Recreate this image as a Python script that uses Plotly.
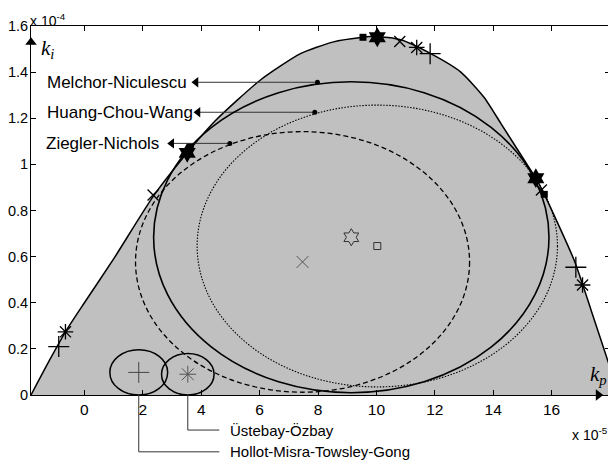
import plotly.graph_objects as go

# Stability-region boundary (kp in units of 1e-5, ki in units of 1e-4)
boundary_kp = [-1.83, -1.2, -0.65, 0.0, 1.0, 2.35, 3.52, 4.49, 6.03, 7.4, 8.5, 9.54, 10.0,
               10.83, 11.86, 12.89, 13.69, 14.26, 15.06, 15.46, 15.75, 16.77, 17.35, 18.03, 18.3]
boundary_ki = [0.0, 0.15, 0.274, 0.40, 0.59, 0.86, 1.05, 1.19, 1.366, 1.48, 1.53, 1.551, 1.555,
               1.54, 1.48, 1.40, 1.29, 1.178, 1.019, 0.94, 0.87, 0.585, 0.369, 0.108, 0.0]

# Ellipses (centre and semi-axes)
ell_names = ["Melchor-Niculescu", "Huang-Chou-Wang", "Ziegler-Nichols",
             "Hollot-Misra-Towsley-Gong", "Üstebay-Özbay"]
ell_cx = [9.14, 10.03, 7.47, 1.86, 3.54]
ell_cy = [0.684, 0.646, 0.577, 0.098, 0.09]
ell_rx = [6.77, 6.17, 5.72, 0.99, 0.90]
ell_ry = [0.674, 0.611, 0.565, 0.098, 0.09]

# Points on the boundary for each method
star_kp = [10.03, 15.46, 3.52]
star_ki = [1.551, 0.94, 1.05]
square_kp = [9.54, 15.75, 3.63]
square_ki = [1.551, 0.87, 1.077]
cross_kp = [10.8, 15.65, 2.35]
cross_ki = [1.533, 0.889, 0.867]
aster_kp = [11.38, 17.06, -0.65]
aster_ki = [1.507, 0.477, 0.274]
plus_kp = [11.84, 16.83, -0.88]
plus_ki = [1.48, 0.554, 0.21]

# Label pointers (dots on the ellipses -> arrowheads near the labels)
label_names = ["Melchor-Niculescu", "Huang-Chou-Wang", "Ziegler-Nichols"]
dot_kp = [7.98, 7.89, 4.98]
dot_ki = [1.356, 1.226, 1.091]
head_kp = [3.82, 3.89, 2.99]
text_kp = [-1.34, -1.34, -1.40]

# Bottom label pointers
bottom_idx = [4, 3]
bottom_paper_y = [-0.095, -0.154]
bottom_head_kp = 4.62

x_ticks = [0, 2, 4, 6, 8, 10, 12, 14, 16, 18]
y_ticks = [0, 0.2, 0.4, 0.6, 0.8, 1, 1.2, 1.4, 1.6]
y_max = 1.6

fig = go.Figure()

fig.add_trace(go.Scatter(x=boundary_kp, y=boundary_ki, mode="lines", fill="tozeroy",
                         fillcolor="#c0c0c0",
                         line=dict(color="black", width=1.5, shape="spline", smoothing=0.6),
                         hoverinfo="skip"))

ell_dash = ["solid", "1.5px,1.5px", "5px,3px", "solid", "solid"]
ell_width = [1.6, 1.1, 1.3, 1.5, 1.5]
for i in range(len(ell_cx)):
    fig.add_shape(type="circle", xref="x", yref="y",
                  x0=ell_cx[i] - ell_rx[i], x1=ell_cx[i] + ell_rx[i],
                  y0=ell_cy[i] - ell_ry[i], y1=ell_cy[i] + ell_ry[i],
                  line=dict(color="black", width=ell_width[i], dash=ell_dash[i]), layer="above")

center_sym = ["hexagram-open", "square-open", "x-thin-open", "cross-thin-open", "asterisk-open"]
center_size = [13, 7, 12, 15, 14]
center_col = ["#333333", "#333333", "#555555", "#444444", "#555555"]
for i in range(len(ell_cx)):
    fig.add_trace(go.Scatter(x=[ell_cx[i]], y=[ell_cy[i]], mode="markers",
                             marker=dict(symbol=center_sym[i], size=center_size[i], color=center_col[i],
                                         line=dict(width=1, color=center_col[i]))))


def marks(xs, ys, sym, size, lw=1.3, clip=True):
    fig.add_trace(go.Scatter(x=xs, y=ys, mode="markers", cliponaxis=clip,
                             marker=dict(symbol=sym, size=size, color="black",
                                         line=dict(width=lw, color="black"))))


marks(square_kp, square_ki, "square", 7, 0)
marks(star_kp, star_ki, "hexagram", 15, 0)
marks(cross_kp, cross_ki, "x-thin-open", 11)
marks(aster_kp, aster_ki, "asterisk-open", 13)
marks(plus_kp, plus_ki, "cross-thin-open", 15)

font = "Liberation Sans, Arial, sans-serif"

# Left label arrows
for i in range(len(label_names)):
    fig.add_trace(go.Scatter(x=[dot_kp[i], head_kp[i]], y=[dot_ki[i], dot_ki[i]], mode="lines",
                             line=dict(color="#333333", width=1)))
    fig.add_annotation(x=text_kp[i], y=dot_ki[i], xref="x", yref="y", text=label_names[i],
                       showarrow=False, xanchor="left", yanchor="middle",
                       font=dict(family=font, size=17, color="black"))
marks(head_kp, dot_ki, "triangle-left", 9, 0, clip=False)
marks(dot_kp, dot_ki, "circle", 5, 0)

# Bottom label arrows
for j, i in enumerate(bottom_idx):
    fig.add_shape(type="line", xref="x", yref="paper", x0=ell_cx[i], x1=ell_cx[i],
                  y0=0, y1=bottom_paper_y[j], line=dict(color="#333333", width=1))
    fig.add_shape(type="line", xref="x", yref="paper", x0=ell_cx[i], x1=bottom_head_kp,
                  y0=bottom_paper_y[j], y1=bottom_paper_y[j], line=dict(color="#333333", width=1))
    fig.add_annotation(x=bottom_head_kp + 0.3, y=bottom_paper_y[j], xref="x", yref="paper",
                       text=ell_names[i], showarrow=False, xanchor="left", yanchor="middle",
                       font=dict(family=font, size=15, color="black"))
marks([bottom_head_kp] * 2, [p * y_max for p in bottom_paper_y], "triangle-right", 9, 0, clip=False)

# Axis arrows
marks([-1.83], [1.53], "triangle-up", 10, 0, clip=False)
marks([17.6], [0.0], "triangle-right", 10, 0, clip=False)

serif = "Liberation Serif, Times New Roman, serif"
fig.add_annotation(x=-1.55, y=1.50, xref="x", yref="y", text="<i>k</i><sub><i>i</i></sub>",
                   showarrow=False, xanchor="left", yanchor="middle",
                   font=dict(family=serif, size=21, color="black"))
fig.add_annotation(x=17.25, y=0.085, xref="x", yref="y", text="<i>k</i><sub><i>p</i></sub>",
                   showarrow=False, xanchor="left", yanchor="middle",
                   font=dict(family=serif, size=21, color="black"))

# Exponent labels
fig.add_annotation(x=-0.005, y=1.046, xref="paper", yref="paper", text="x 10<sup>-4</sup>",
                   showarrow=False, xanchor="left", yanchor="top",
                   font=dict(family=font, size=14, color="black"))
fig.add_annotation(x=1.0, y=-0.105, xref="paper", yref="paper", text="x 10<sup>-5</sup>",
                   showarrow=False, xanchor="right", yanchor="middle",
                   font=dict(family=font, size=14, color="black"))

axis_common = dict(showline=True, linecolor="black", linewidth=1, mirror="ticks", ticks="inside",
                   ticklen=5, tickcolor="black", showgrid=False, zeroline=False, automargin=False)
fig.update_xaxes(range=[-1.83, 18], tickvals=x_ticks, ticktext=[str(v) for v in x_ticks],
                 tickfont=dict(family=font, size=15.5, color="black"), **axis_common)
fig.update_yaxes(range=[0, y_max], tickvals=y_ticks, ticktext=[("%g" % v) for v in y_ticks],
                 tickfont=dict(family=font, size=14.5, color="black"), ticklabelstandoff=-1,
                 **axis_common)

# The page body adds an 8px offset, so the figure is 8px smaller and margins compensate
fig.update_layout(width=608, height=460, margin=dict(l=23, r=6, t=18, b=73),
                  plot_bgcolor="white", paper_bgcolor="white", showlegend=False)

fig.write_html("out.html")
